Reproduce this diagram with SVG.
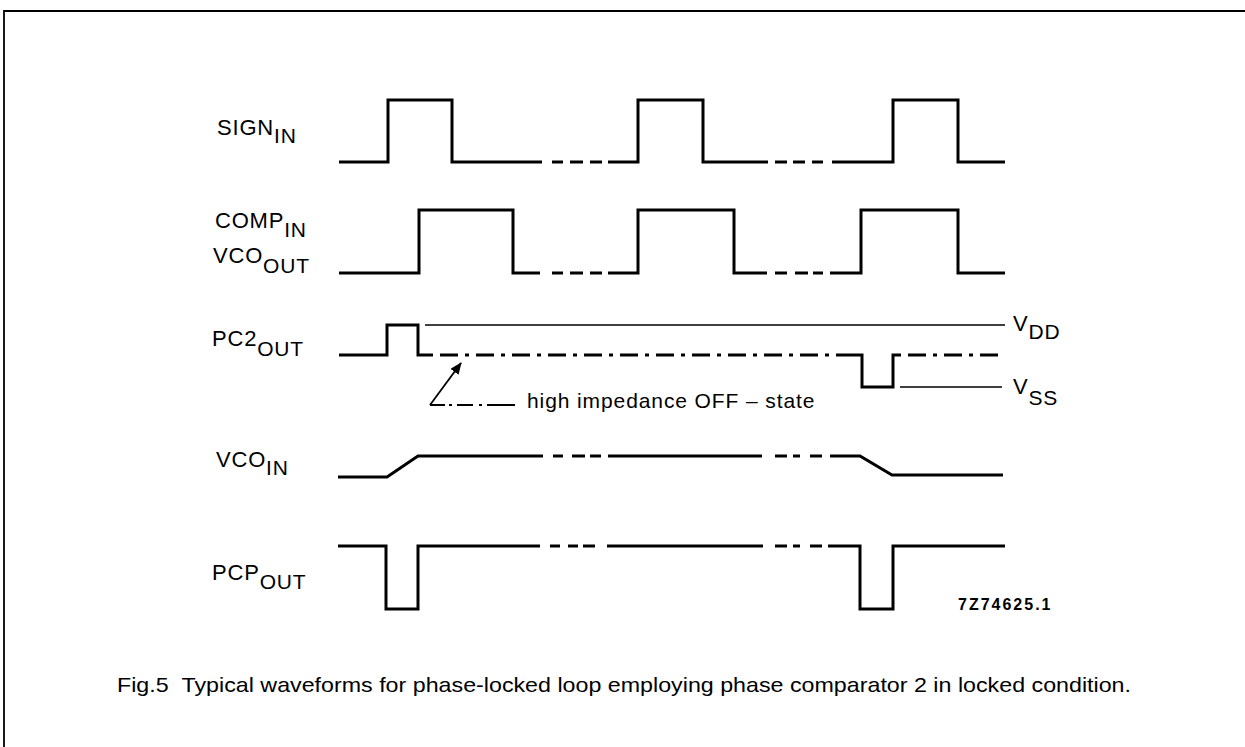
<svg xmlns="http://www.w3.org/2000/svg" width="1245" height="747" viewBox="0 0 1245 747">
<style>
.w{fill:none;stroke:#000;stroke-width:3;stroke-linejoin:miter}
.thin{fill:none;stroke:#000;stroke-width:1.6}
.dd{fill:none;stroke:#000;stroke-width:3;stroke-dasharray:18 7 4 7}
.lbl{font-family:"Liberation Sans",Arial,sans-serif;font-size:22px;fill:#000;letter-spacing:0.8px}
.sub{font-size:21px}
</style>
<defs>
<marker id="ah" markerWidth="12" markerHeight="10" refX="11" refY="5" orient="auto" markerUnits="userSpaceOnUse">
<path d="M0,0 L12,5 L0,10 Z" fill="#000"/>
</marker>
</defs>
<rect width="1245" height="747" fill="#fff"/>
<path d="M4,747 V11 H1245" fill="none" stroke="#000" stroke-width="1.8"/>

<g id="sign-in">
<text class="lbl" x="217" y="135">SIGN<tspan class="sub" dy="8">IN</tspan></text>
<path class="w" d="M339,162 H388 V100 H452 V162 H542 M552,162 H563 M570,162 H583 M590,162 H602 M608,162 H638 V100 H703 V162 H768 M775,162 H787 M793,162 H805 M812,162 H823 M832,162 H893 V100 H958 V162 H1005"/>
</g>

<g id="comp-in">
<text class="lbl" x="215" y="228">COMP<tspan class="sub" dy="9">IN</tspan></text>
<text class="lbl" x="213" y="263">VCO<tspan class="sub" dy="10">OUT</tspan></text>
<path class="w" d="M339,273 H419 V210 H513 V273 H540 M552,273 H563 M570,273 H583 M590,273 H602 M608,273 H638 V210 H734 V273 H767 M775,273 H787 M795,273 H808 M813,273 H823 M830,273 H861 V210 H958 V273 H1005"/>
</g>

<g id="pc2-out">
<text class="lbl" x="212" y="346">PC2<tspan class="sub" dy="10">OUT</tspan></text>
<path class="w" d="M339,355 H387 V325 H418 V355 H433"/>
<path class="dd" d="M440,355 H850"/>
<path class="w" d="M850,355 H862 V387 H893 V355 H901"/>
<path class="dd" d="M908,355 H1000"/>
<path class="thin" d="M425,325 H1005 M900,387 H1002"/>
<text class="lbl" x="1013" y="331">V<tspan class="sub" dy="8">DD</tspan></text>
<text class="lbl" x="1013" y="394">V<tspan class="sub" dy="11">SS</tspan></text>
</g>

<g id="vco-in">
<text class="lbl" x="216" y="467">VCO<tspan class="sub" dy="8">IN</tspan></text>
<path class="w" d="M338,477 H387 L418,456 H543 M553,456 H563 M572,456 H585 M590,456 H601 M608,456 H762 M775,456 H787 M793,456 H800 M810,456 H822 M830,456 H860 L892,475 H1003"/>
</g>

<g id="pcp-out">
<text class="lbl" x="212" y="580">PCP<tspan class="sub" dy="9">OUT</tspan></text>
<path class="w" d="M338,546 H386 V609 H418 V546 H540 M550,546 H560 M568,546 H578 M583,546 H595 M607,546 H763 M775,546 H787 M793,546 H800 M810,546 H822 M828,546 H860 V609 H893 V546 H1005"/>
</g>

<g id="connectors">
<path d="M430,405 L461,363" fill="none" stroke="#000" stroke-width="1.8" marker-end="url(#ah)"/>
<path d="M430,405 H445 M449,405 H452 M457,405 H473 M479,405 H482 M487,405 H515" fill="none" stroke="#000" stroke-width="2"/>
</g>

<g id="annotation">
<text x="527" y="408" font-family="Liberation Sans, Arial, sans-serif" font-size="21" letter-spacing="0.9">high impedance OFF – state</text>
</g>

<text x="958" y="610" font-family="Liberation Sans, Arial, sans-serif" font-size="16" font-weight="bold" letter-spacing="2">7Z74625.1</text>

<text x="117" y="692" font-family="Liberation Sans, Arial, sans-serif" font-size="21" textLength="1014" lengthAdjust="spacingAndGlyphs">Fig.5&#160;&#160;Typical waveforms for phase-locked loop employing phase comparator 2 in locked condition.</text>
</svg>
